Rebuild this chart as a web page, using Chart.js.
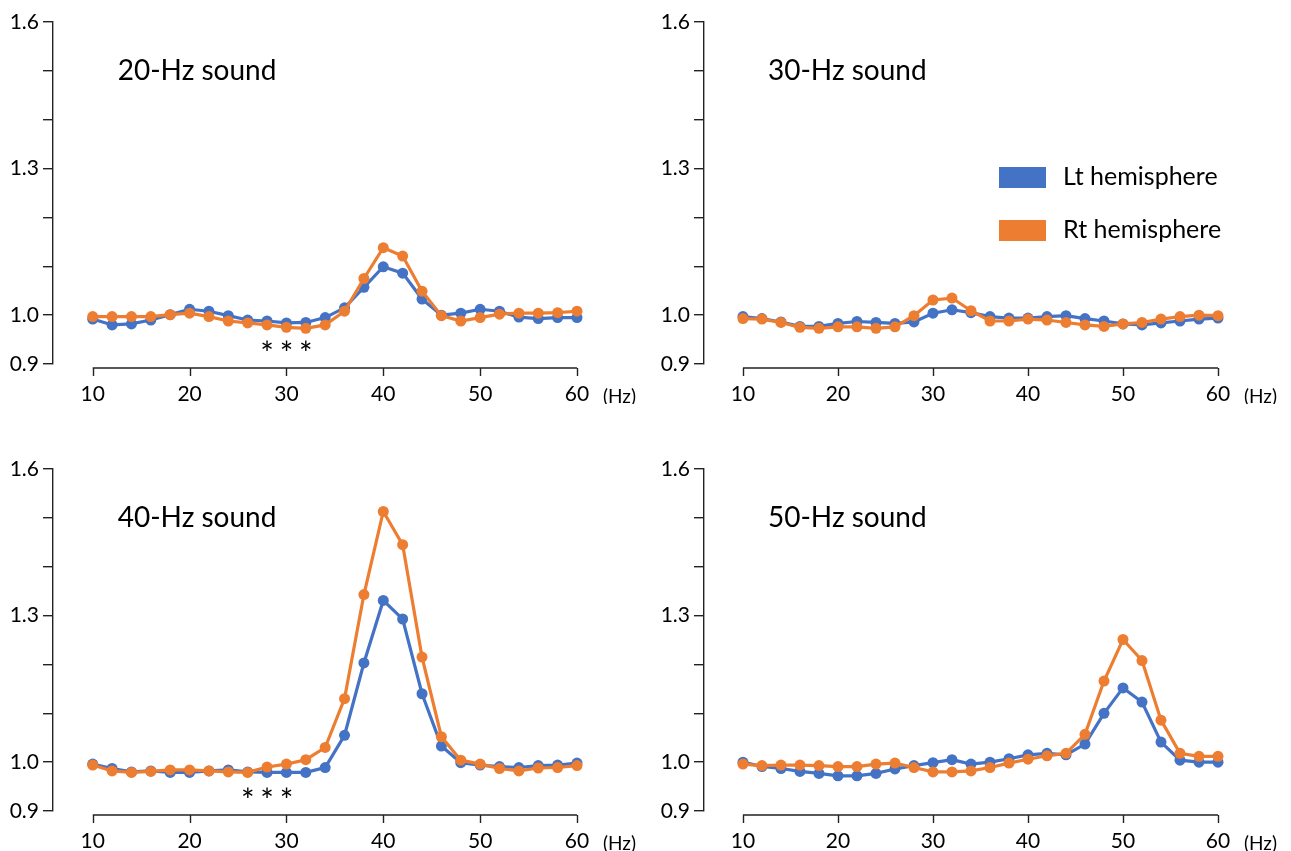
<!DOCTYPE html>
<html>
<head>
<meta charset="utf-8">
<script src="https://cdn.jsdelivr.net/npm/chart.js@4.4.1/dist/chart.umd.min.js"></script>
<style>
  html, body { margin: 0; padding: 0; background: #fff; overflow: hidden; }
  body { width: 1291px; height: 851px; position: relative; }
  canvas { position: absolute; }
</style>
</head>
<body>
<canvas id="c20" width="650" height="404" style="left:0;top:0"></canvas>
<canvas id="c30" width="640" height="404" style="left:651px;top:0"></canvas>
<canvas id="c40" width="650" height="404" style="left:0;top:447px"></canvas>
<canvas id="c50" width="640" height="404" style="left:651px;top:447px"></canvas>
<script>
// frequencies (Hz) on the x axis, one point every 2 Hz
const freqs = [10, 12, 14, 16, 18, 20, 22, 24, 26, 28, 30, 32, 34, 36, 38, 40, 42, 44, 46, 48, 50, 52, 54, 56, 58, 60];

// 20-Hz sound
const lt20 = [0.992, 0.980, 0.982, 0.990, 1.001, 1.012, 1.008, 0.999, 0.990, 0.988, 0.984, 0.985, 0.995, 1.015, 1.057, 1.099, 1.086, 1.033, 1.000, 1.004, 1.012, 1.008, 0.996, 0.993, 0.995, 0.995];
const rt20 = [0.997, 0.997, 0.997, 0.997, 1.001, 1.004, 0.997, 0.988, 0.984, 0.980, 0.975, 0.973, 0.980, 1.008, 1.075, 1.138, 1.121, 1.049, 0.999, 0.988, 0.995, 1.002, 1.004, 1.004, 1.005, 1.008];

// 30-Hz sound
const lt30 = [0.997, 0.993, 0.986, 0.977, 0.977, 0.983, 0.987, 0.985, 0.983, 0.986, 1.004, 1.011, 1.005, 0.997, 0.994, 0.994, 0.997, 0.999, 0.993, 0.988, 0.982, 0.980, 0.984, 0.988, 0.992, 0.994];
const rt30 = [0.993, 0.992, 0.985, 0.975, 0.973, 0.976, 0.976, 0.973, 0.976, 0.999, 1.031, 1.035, 1.009, 0.988, 0.988, 0.992, 0.990, 0.985, 0.980, 0.977, 0.982, 0.985, 0.992, 0.997, 1.000, 0.999];

// 40-Hz sound
const lt40 = [0.996, 0.987, 0.980, 0.982, 0.979, 0.979, 0.982, 0.984, 0.980, 0.979, 0.979, 0.979, 0.989, 1.055, 1.203, 1.331, 1.293, 1.140, 1.033, 0.999, 0.994, 0.991, 0.989, 0.993, 0.994, 0.998];
const rt40 = [0.994, 0.982, 0.979, 0.981, 0.984, 0.984, 0.982, 0.980, 0.979, 0.990, 0.996, 1.005, 1.030, 1.130, 1.343, 1.513, 1.445, 1.215, 1.052, 1.004, 0.996, 0.987, 0.982, 0.988, 0.989, 0.993];

// 50-Hz sound
const lt50 = [1.000, 0.991, 0.987, 0.981, 0.977, 0.972, 0.972, 0.977, 0.986, 0.993, 0.999, 1.005, 0.996, 1.000, 1.007, 1.015, 1.018, 1.015, 1.037, 1.100, 1.152, 1.123, 1.041, 1.004, 1.000, 1.000];
const rt50 = [0.996, 0.993, 0.994, 0.994, 0.993, 0.991, 0.991, 0.996, 0.998, 0.989, 0.980, 0.980, 0.982, 0.989, 0.998, 1.006, 1.013, 1.018, 1.057, 1.166, 1.251, 1.208, 1.086, 1.018, 1.012, 1.012];

// axes
const xTicks = [10, 20, 30, 40, 50, 60];
const yTicks = [0.9, 1.0, 1.1, 1.2, 1.3, 1.4, 1.5, 1.6];
const yLabelled = [0.9, 1.0, 1.3, 1.6];

// significance marks (frequencies with ***)
const sig20 = [28, 30, 32];
const sig40 = [26, 28, 30];

const seriesNames = ["Lt hemisphere", "Rt hemisphere"];
const BLUE = "#4472C4";
const ORANGE = "#ED7D31";
const FONT = "Lato, 'Open Sans', sans-serif";

// draws title, detached x axis line, (Hz) unit, asterisks and legend
const panelDecor = {
  id: "panelDecor",
  afterDraw(chart, args, opts) {
    const { ctx, chartArea } = chart;
    const xs = chart.scales.x;
    const ys = chart.scales.y;
    ctx.save();

    // x axis line, only from 10 to 60
    const axisY = chartArea.bottom + 4;
    ctx.strokeStyle = "#222";
    ctx.lineWidth = 1.4;
    ctx.beginPath();
    ctx.moveTo(xs.getPixelForValue(xTicks[0]), axisY);
    ctx.lineTo(xs.getPixelForValue(xTicks[xTicks.length - 1]), axisY);
    xTicks.forEach(t => {
      const px = Math.round(xs.getPixelForValue(t)) + 0.5;
      ctx.moveTo(px, axisY);
      ctx.lineTo(px, axisY + 8);
    });
    ctx.stroke();

    ctx.fillStyle = "#000";
    ctx.textBaseline = "middle";
    ctx.textAlign = "left";

    // title
    ctx.font = "28px " + FONT;
    ctx.fillText(opts.title, xs.getPixelForValue(xTicks[0]) + 25, 71);

    // unit
    ctx.font = "19px " + FONT;
    ctx.fillText("(Hz)", xs.getPixelForValue(xTicks[xTicks.length - 1]) + 26, chartArea.bottom + 33);

    // *** marks
    if (opts.sig) {
      ctx.font = "32px " + FONT;
      ctx.textAlign = "center";
      ctx.textBaseline = "alphabetic";
      opts.sig.forEach(f => {
        ctx.fillText("*", xs.getPixelForValue(f), ys.getPixelForValue(0.9) + 1);
      });
    }

    // legend
    if (opts.legend) {
      ctx.textAlign = "left";
      ctx.textBaseline = "middle";
      ctx.font = "25px " + FONT;
      chart.data.datasets.forEach((ds, i) => {
        const top = 167 + i * 53;
        ctx.fillStyle = ds.borderColor;
        ctx.fillRect(348, top, 47, 21);
        ctx.fillStyle = "#000";
        ctx.fillText(ds.label, 412, top + 10);
      });
    }
    ctx.restore();
  }
};

function makePanel(id, title, lt, rt, sig, legend) {
  new Chart(document.getElementById(id), {
    type: "line",
    data: {
      datasets: [
        {
          label: seriesNames[0],
          data: freqs.map((f, i) => ({ x: f, y: lt[i] })),
          borderColor: BLUE,
          backgroundColor: BLUE,
          pointBackgroundColor: BLUE,
          order: 2
        },
        {
          label: seriesNames[1],
          data: freqs.map((f, i) => ({ x: f, y: rt[i] })),
          borderColor: ORANGE,
          backgroundColor: ORANGE,
          pointBackgroundColor: ORANGE,
          order: 1
        }
      ]
    },
    options: {
      responsive: false,
      animation: false,
      clip: false,
      layout: { padding: { top: 22, right: 73, left: 0, bottom: 0 } },
      elements: {
        line: { borderWidth: 3.2, tension: 0 },
        point: { radius: 5.5, borderWidth: 0, hoverRadius: 5.5 }
      },
      plugins: {
        legend: { display: false },
        tooltip: { enabled: false },
        panelDecor: { title, sig, legend }
      },
      scales: {
        x: {
          type: "linear",
          min: 5.9,
          max: 60,
          afterBuildTicks: s => { s.ticks = xTicks.map(v => ({ value: v })); },
          afterFit: s => { s.height = 40; },
          grid: { display: false },
          border: { display: false },
          ticks: { color: "#000", font: { family: FONT, size: 21 }, padding: 10, maxRotation: 0 }
        },
        y: {
          min: 0.9,
          max: 1.6,
          afterBuildTicks: s => { s.ticks = yTicks.map(v => ({ value: v })); },
          afterFit: s => { s.width = 53; },
          grid: { drawOnChartArea: false, drawTicks: true, tickLength: 10, color: "#222", lineWidth: 1.4 },
          border: { display: true, color: "#222", width: 1.4 },
          ticks: {
            color: "#000",
            font: { family: FONT, size: 21 },
            padding: 4,
            callback: v => yLabelled.some(l => Math.abs(l - v) < 1e-6) ? v.toFixed(1) : ""
          }
        }
      }
    },
    plugins: [panelDecor]
  });
}

makePanel("c20", "20-Hz sound", lt20, rt20, sig20, false);
makePanel("c30", "30-Hz sound", lt30, rt30, null, true);
makePanel("c40", "40-Hz sound", lt40, rt40, sig40, false);
makePanel("c50", "50-Hz sound", lt50, rt50, null, false);
</script>
</body>
</html>
